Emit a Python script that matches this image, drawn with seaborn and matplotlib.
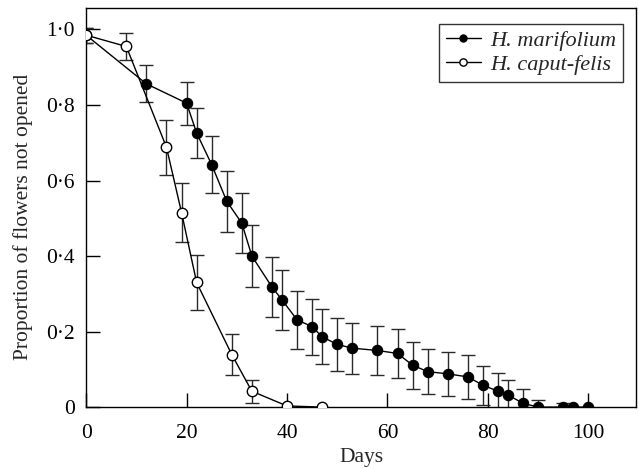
import seaborn as sns
import matplotlib.pyplot as plt
import pandas as pd

# H. marifolium (filled)
mari_days = [0, 12, 20, 22, 25, 28, 31, 33, 37, 39, 42, 45, 47, 50, 53, 58, 62,
             65, 68, 72, 76, 79, 82, 84, 87, 90, 95, 97, 100]
mari_prop = [0.985, 0.856, 0.805, 0.726, 0.642, 0.545, 0.487, 0.400, 0.318, 0.284,
             0.231, 0.213, 0.186, 0.166, 0.156, 0.150, 0.142, 0.111, 0.094, 0.088,
             0.080, 0.058, 0.042, 0.032, 0.010, 0.0, 0.0, 0.0, 0.0]
mari_err = [0.02, 0.049, 0.057, 0.067, 0.075, 0.08, 0.08, 0.083, 0.08, 0.08,
            0.076, 0.074, 0.073, 0.071, 0.068, 0.066, 0.066, 0.062, 0.06, 0.058,
            0.059, 0.052, 0.048, 0.041, 0.038, 0.018, 0.011, 0.0, 0.0]

# H. caput-felis (open)
caput_days = [0, 8, 16, 19, 22, 29, 33, 40, 47]
caput_prop = [0.985, 0.955, 0.688, 0.515, 0.330, 0.139, 0.042, 0.003, 0.0]
caput_err = [0.02, 0.035, 0.073, 0.078, 0.074, 0.055, 0.031, 0.0, 0.0]

yticks = [0, 0.2, 0.4, 0.6, 0.8, 1.0]
ytick_labels = ['0', '0·2', '0·4', '0·6', '0·8', '1·0']
xticks = [0, 20, 40, 60, 80, 100]

sns.set_style('ticks')
plt.rcParams['font.family'] = ['Liberation Serif', 'DejaVu Serif']

df_m = pd.DataFrame({'Days': mari_days, 'prop': mari_prop, 'err': mari_err})
df_c = pd.DataFrame({'Days': caput_days, 'prop': caput_prop, 'err': caput_err})

fig, ax = plt.subplots(figsize=(6.38, 4.69), dpi=100)
fig.subplots_adjust(left=0.135, right=0.997, top=0.983, bottom=0.132)

# error bars first, so markers sit on top
for d in (df_m, df_c):
    sub = d[d['err'] > 0]
    ax.errorbar(sub['Days'], sub['prop'], yerr=sub['err'], fmt='none',
                ecolor='#2a2a2a', elinewidth=1.0, capsize=5, capthick=1.0, zorder=1)

sns.lineplot(data=df_m, x='Days', y='prop', ax=ax, color='black', lw=1.0,
             marker='o', markersize=7.5, markerfacecolor='black',
             markeredgecolor='black', label='H. marifolium', zorder=3)
sns.lineplot(data=df_c, x='Days', y='prop', ax=ax, color='black', lw=1.0,
             marker='o', markersize=7.5, markerfacecolor='white',
             markeredgecolor='black', markeredgewidth=1.0,
             label='H. caput-felis', zorder=4)

ax.set_xlim(0, 109.5)
ax.set_ylim(0, 1.057)
ax.set_xticks(xticks)
ax.set_yticks(yticks)
ax.set_yticklabels(ytick_labels)
ax.tick_params(axis='both', direction='in', length=10, width=1.0,
               labelsize=15.5, colors='black')
ax.tick_params(axis='x', pad=12)
ax.tick_params(axis='y', pad=8)
for s in ax.spines.values():
    s.set_visible(True)
    s.set_linewidth(1.0)
    s.set_color('black')

ax.set_xlabel('Days', fontsize=15.5, labelpad=3.5)
ax.set_ylabel('Proportion of flowers not opened', fontsize=15.5)
ax.yaxis.set_label_coords(-0.097, 0.477)

leg = ax.legend(loc='upper right', bbox_to_anchor=(0.976, 0.96), borderaxespad=0,
                frameon=True, fancybox=False, markerscale=0.7,
                prop={'family': 'Liberation Serif', 'style': 'italic', 'size': 16},
                handlelength=1.6, handletextpad=0.4, borderpad=0.3,
                labelspacing=0.15)
leg.get_frame().set_edgecolor('black')
leg.get_frame().set_linewidth(1.0)

fig.savefig('out.png', dpi=100)
